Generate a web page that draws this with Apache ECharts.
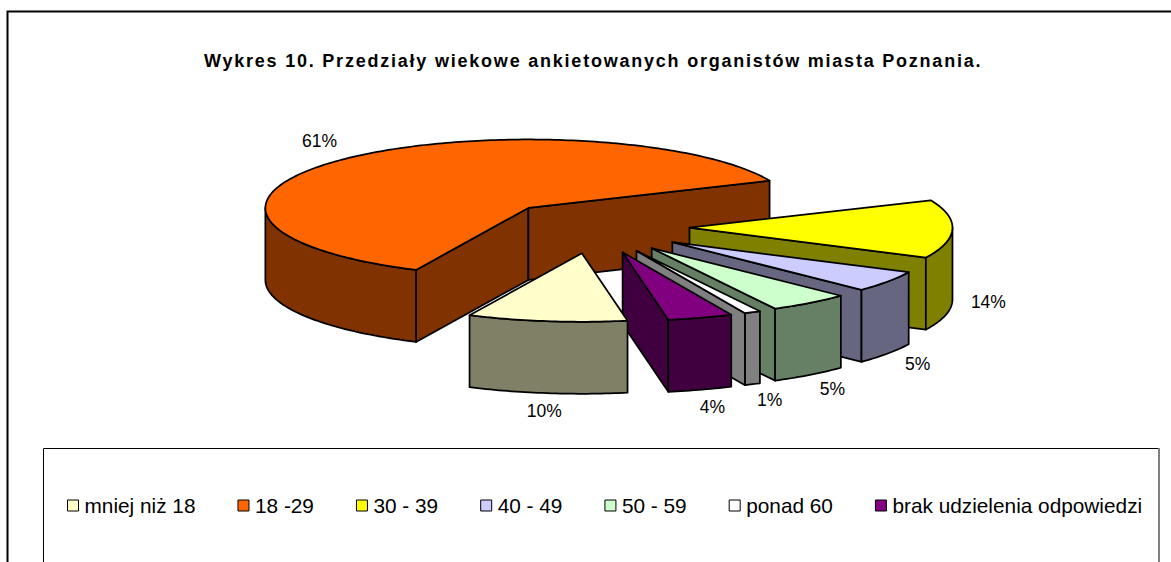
<!DOCTYPE html>
<html>
<head>
<meta charset="utf-8">
<title>Wykres 10</title>
<script src="https://cdn.jsdelivr.net/npm/echarts@6/dist/echarts.min.js"></script>
<style>
  html, body { margin: 0; padding: 0; background: #fff; }
  #chart { width: 1171px; height: 562px; }
  /* the original title is tracked out, only bold text on the page */
  #chart text[style*="bold"] { letter-spacing: 1.78px; }
</style>
</head>
<body>
<div id="chart"></div>
<script>
  const TITLE = "Wykres 10. Przedziały wiekowe ankietowanych organistów miasta Poznania.";
  const categories = ["mniej niż 18", "18 -29", "30 - 39", "40 - 49", "50 - 59", "ponad 60", "brak udzielenia odpowiedzi"];
  const values = [9.8, 61.45, 13.75, 5, 5, 1, 4];
  const topColors = ["#FFFFCC", "#FF6600", "#FFFF00", "#CCCCFF", "#CCFFCC", "#FFFFFF", "#800080"];
  const sideColors = ["#808066", "#803300", "#808000", "#666680", "#668066", "#808080", "#400040"];
  // back to front, the slices overlap
  const drawOrder = [1, 2, 3, 4, 5, 6, 0];

  const START_ANGLE = 170;
  const CENTER = [594.5, 227];
  const RX = 263;
  const RY = 68.5;
  const DEPTH = 72;
  const EXPLODE_X = 95;
  const EXPLODE_Y = 26.5;
  const LINE = "#000";

  const rad = (deg) => (deg * Math.PI) / 180;
  const total = values.reduce((a, b) => a + b, 0);

  let cursor = START_ANGLE;
  const slices = values.map((v) => {
    // keep each slice's start inside one turn, the visible wall range depends on it
    const from = cursor % 360;
    const to = from + (v / total) * 360;
    cursor = to;
    const mid = rad((from + to) / 2);
    return {
      from,
      to,
      mid,
      apex: [CENTER[0] + EXPLODE_X * Math.sin(mid), CENTER[1] - EXPLODE_Y * Math.cos(mid)],
    };
  });

  function rimPoint(apex, deg) {
    return [apex[0] + RX * Math.sin(rad(deg)), apex[1] - RY * Math.cos(rad(deg))];
  }

  function rimPoints(apex, from, to) {
    const pts = [];
    const steps = Math.max(2, Math.ceil(to - from));
    for (let i = 0; i <= steps; i++) {
      pts.push(rimPoint(apex, from + ((to - from) * i) / steps));
    }
    return pts;
  }

  const down = (p) => [p[0], p[1] + DEPTH];

  function face(points, fill) {
    return {
      type: "polygon",
      shape: { points },
      style: { fill, stroke: LINE, lineWidth: 1.75, lineJoin: "round" },
    };
  }

  function radialWall(apex, deg, fill) {
    const rim = rimPoint(apex, deg);
    return face([apex, rim, down(rim), down(apex)], fill);
  }

  function renderSlice(index) {
    const s = slices[index];
    const side = sideColors[index];
    const children = [];
    // a cut face shows when it turns towards the viewer
    if (Math.sin(rad(s.from)) < 0) children.push(radialWall(s.apex, s.from, side));
    if (Math.sin(rad(s.to)) > 0) children.push(radialWall(s.apex, s.to, side));

    const wallFrom = Math.max(s.from, 90);
    const wallTo = Math.min(s.to, 270);
    if (wallTo > wallFrom) {
      const wall = rimPoints(s.apex, wallFrom, wallTo);
      children.push(face(wall.concat(wall.map(down).reverse()), side));
    }
    children.push(face([s.apex].concat(rimPoints(s.apex, s.from, s.to)), topColors[index]));

    const front = Math.cos(s.mid) < 0;
    const rim = rimPoint(s.apex, (s.from + s.to) / 2);
    children.push({
      type: "text",
      style: {
        x: rim[0] + (front ? 34 : 40) * Math.sin(s.mid) + 2,
        y: rim[1] + (front ? DEPTH : 0) - (front ? 17 : 26) * Math.cos(s.mid) + 1,
        text: Math.round(values[index]) + "%",
        fill: "#000",
        font: "17.5px 'Liberation Sans', Arial, sans-serif",
        align: "center",
        verticalAlign: "middle",
      },
    });
    return { type: "group", children };
  }

  const series = drawOrder.map((index, order) => ({
    type: "custom",
    name: categories[index],
    coordinateSystem: "none",
    z: 2 + order,
    silent: true,
    animation: false,
    itemStyle: { color: topColors[index] },
    data: [[values[index]]],
    renderItem: () => renderSlice(index),
  }));

  const chart = echarts.init(document.getElementById("chart"), null, { renderer: "svg" });
  chart.setOption({
    animation: false,
    backgroundColor: "#fff",
    title: {
      text: TITLE,
      left: 204,
      top: 52,
      padding: 0,
      textStyle: { fontFamily: "'Liberation Sans', Arial, sans-serif", fontSize: 18, fontWeight: "bold", color: "#000" },
    },
    legend: {
      data: categories,
      left: 67,
      top: 495,
      padding: 0,
      orient: "horizontal",
      itemGap: 42,
      itemWidth: 11,
      itemHeight: 11,
      icon: "rect",
      selectedMode: false,
      itemStyle: { borderColor: "#000", borderWidth: 1 },
      textStyle: { fontFamily: "'Liberation Sans', Arial, sans-serif", fontSize: 20.8, color: "#000", padding: [0, 0, 0, 1] },
    },
    graphic: [
      { type: "polyline", silent: true, z: 0, shape: { points: [[7.5, 562], [7.5, 11.5], [1171, 11.5]] }, style: { fill: "none", stroke: "#000", lineWidth: 2 } },
      { type: "polyline", silent: true, z: 0, shape: { points: [[43.5, 562], [43.5, 448.5], [1158.5, 448.5]] }, style: { fill: "none", stroke: "#000", lineWidth: 1 } },
      { type: "line", silent: true, z: 0, shape: { x1: 1159, y1: 448, x2: 1159, y2: 562 }, style: { stroke: "#808080", lineWidth: 2 } },
    ],
    series,
  });
</script>
</body>
</html>
